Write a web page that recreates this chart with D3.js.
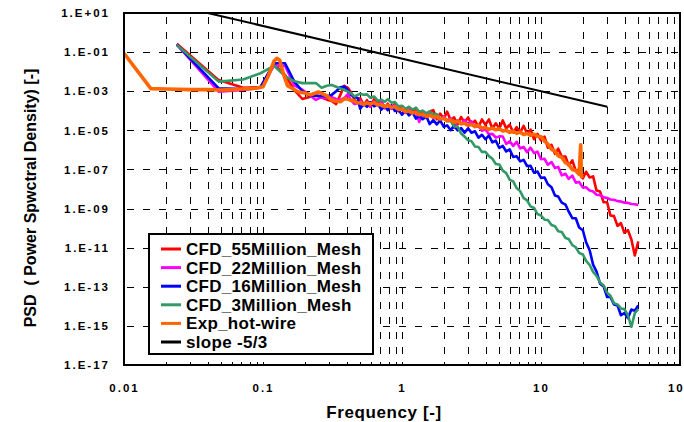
<!DOCTYPE html>
<html>
<head>
<meta charset="utf-8">
<script src="https://cdn.jsdelivr.net/npm/d3@7"></script>
<style>
  html, body { margin: 0; padding: 0; background: #fff; }
  svg { display: block; font-family: "Liberation Sans", Arial, sans-serif; font-weight: bold; }
</style>
</head>
<body>
<svg id="chart" width="684" height="422"></svg>
<script>
// ---- Frequency grids ----
// CFD spectra: evenly spaced low-frequency bins, then a log-spaced sampling above 0.5
const cfdLowFreq = [0.024, 0.048, 0.072, 0.096, 0.12, 0.144, 0.168, 0.192, 0.216, 0.24,
  0.264, 0.288, 0.312, 0.336, 0.36, 0.384, 0.408, 0.432, 0.456, 0.48];
const hiFreq = [0.5, 0.53, 0.56, 0.59, 0.63, 0.67, 0.71, 0.75, 0.79, 0.84, 0.89, 0.94, 1.0,
  1.06, 1.12, 1.19, 1.26, 1.33, 1.41, 1.5, 1.58, 1.68, 1.78, 1.88, 2.0, 2.11, 2.24, 2.37, 2.51,
  2.66, 2.82, 2.99, 3.16, 3.35, 3.55, 3.76, 3.98, 4.22, 4.47, 4.73, 5.01, 5.31, 5.62, 5.96, 6.31,
  6.68, 7.08, 7.5, 7.94, 8.41, 8.91, 9.44, 10.0,
  10.6, 11.2, 11.9, 12.6, 13.3, 14.1, 15.0, 15.8, 16.8, 17.8, 18.8, 20.0, 21.1, 22.4, 23.7,
  25.1, 26.6, 28.2, 29.9, 31.6, 33.5, 35.5, 37.6, 39.8, 42.2, 44.7, 47.3, 50.1];
const cfdFreq = cfdLowFreq.concat(hiFreq);

// Hot-wire measurement frequencies
const expLowFreq = [0.01, 0.0156, 0.02, 0.03, 0.04, 0.05, 0.06, 0.07, 0.08, 0.09, 0.1, 0.11, 0.12,
  0.126, 0.132, 0.14, 0.15, 0.165, 0.18, 0.2, 0.22, 0.25, 0.27, 0.29, 0.31, 0.33, 0.36, 0.39,
  0.42, 0.45, 0.48];
const expTailFreq = [19.3, 19.5, 19.9];
const expFreq = expLowFreq.concat(hiFreq.slice(0, 64), expTailFreq);

// ---- PSD values ----
const psd55M = [0.27, 3.7e-3, 1.5e-3, 1.6e-3, 2.5e-2, 6.8e-3, 1.15e-3, 4.0e-4, 5.1e-4, 6.5e-4,
  4.8e-4, 3.7e-4, 3.2e-4, 2.2e-4, 6.5e-4, 1.9e-3, 1.5e-3, 8.1e-4, 3.6e-4, 2.5e-4,
  4.4e-4, 2.0e-4, 3.5e-4, 1.66e-4, 4.0e-4, 2.1e-4, 3.2e-4, 1.35e-4, 2.3e-4, 1.26e-4,
  2.4e-4, 1.1e-4, 1.7e-4, 9.3e-5, 1.55e-4, 8.1e-5, 1.4e-4, 7.8e-5, 1.0e-4, 6.2e-5,
  9.3e-5, 1.07e-4, 3.7e-5, 7.2e-5, 3.9e-5, 9.1e-5, 3.3e-5, 4.6e-5, 2.0e-5, 4.8e-5,
  2.5e-5, 4.6e-5, 2.0e-5, 3.1e-5, 1.5e-5, 3.6e-5, 1.9e-5, 3.6e-5, 1.23e-5, 2.3e-5,
  1.26e-5, 3.2e-5, 1.26e-5, 1.95e-5, 7.8e-6, 1.45e-5, 7.9e-6, 1.7e-5, 6.9e-6, 1.1e-5,
  3.5e-6, 6.5e-6, 3.1e-6, 4.7e-6, 1.3e-6, 1.8e-6, 6.3e-7, 1.15e-6, 4.6e-7, 4.6e-7,
  1.6e-7, 2.9e-7, 8.3e-8, 1.02e-7, 3.5e-8, 7.6e-8, 3.9e-8, 4.4e-8, 8.3e-9, 7.4e-9,
  2.1e-9, 2.1e-9, 4.4e-10, 4.1e-10, 1.3e-10, 1.8e-10, 5.8e-11, 7.9e-11, 2.6e-11, 4.0e-12,
  2.1e-11];

const psd22M = [0.24, 9.5e-4, 1.15e-3, 1.5e-3, 2.0e-2, 2.0e-2, 2.0e-3, 1.2e-3, 6.5e-4, 3.6e-4,
  5.0e-4, 4.5e-4, 5.0e-4, 4.0e-4, 3.6e-4, 4.5e-4, 7.2e-4, 3.2e-4, 2.2e-4, 2.5e-4,
  3.3e-4, 1.9e-4, 2.75e-4, 1.6e-4, 2.95e-4, 1.95e-4, 2.9e-4, 1.4e-4, 2.0e-4, 1.3e-4,
  1.9e-4, 9.3e-5, 1.26e-4, 7.9e-5, 1.3e-4, 7.1e-5, 9.3e-5, 2.7e-5, 7.1e-5, 4.4e-5,
  7.4e-5, 4.2e-5, 5.5e-5, 3.0e-5, 5.1e-5, 3.2e-5, 4.1e-5, 1.35e-5, 3.2e-5, 2.1e-5,
  3.3e-5, 2.0e-5, 2.9e-5, 1.45e-5, 1.74e-5, 9.5e-6, 1.15e-5, 6.3e-6, 6.6e-6, 4.3e-6,
  4.9e-6, 4.8e-6, 2.0e-6, 2.75e-6, 1.6e-6, 2.6e-6, 1.2e-6, 1.4e-6, 7.6e-7, 1.3e-6,
  6.8e-7, 8.1e-7, 3.3e-7, 3.5e-7, 1.74e-7, 2.4e-7, 1.17e-7, 1.35e-7, 5.0e-8, 6.0e-8,
  3.3e-8, 4.8e-8, 2.1e-8, 2.3e-8, 1.2e-8, 1.23e-8, 8.3e-9, 7.4e-9, 5.1e-9, 4.8e-9,
  3.8e-9, 3.5e-9, 2.9e-9, 2.8e-9, 2.4e-9, 2.3e-9, 2.0e-9, 1.95e-9, 1.7e-9, 1.66e-9,
  1.5e-9];

const psd16M = [0.24, 1.4e-3, 1.3e-3, 1.6e-3, 2.7e-2, 2.7e-2, 3.1e-3, 1.0e-3, 6.0e-4, 5.7e-4,
  5.7e-4, 5.5e-4, 6.5e-4, 1.0e-3, 1.6e-3, 1.75e-3, 1.15e-3, 6.5e-4, 5.0e-4, 4.5e-4,
  1.26e-4, 2.2e-4, 1.6e-4, 2.75e-4, 1.7e-4, 2.2e-4, 1.15e-4, 1.74e-4, 1.07e-4, 1.9e-4,
  9.8e-5, 1.12e-4, 6.3e-5, 1.05e-4, 5.8e-5, 8.3e-5, 4.0e-5, 5.4e-5, 3.7e-5, 5.1e-5,
  2.1e-5, 3.3e-5, 2.0e-5, 3.2e-5, 1.5e-5, 1.8e-5, 1.02e-5, 1.74e-5, 1.0e-5, 1.3e-5,
  7.6e-6, 1.26e-5, 7.6e-6, 8.9e-6, 4.2e-6, 5.9e-6, 3.5e-6, 5.4e-6, 2.45e-6, 2.95e-6,
  1.26e-6, 1.6e-6, 8.3e-7, 1.05e-6, 4.3e-7, 4.7e-7, 2.6e-7, 3.1e-7, 1.5e-7, 1.55e-7,
  6.8e-8, 7.8e-8, 3.7e-8, 3.9e-8, 1.74e-8, 1.23e-8, 4.6e-9, 4.1e-9, 2.0e-9, 1.6e-9,
  7.1e-10, 3.2e-10, 3.2e-10, 1.07e-10, 7.8e-11, 1.9e-11, 7.4e-12, 1.35e-12, 6.0e-13, 1.45e-13,
  1.05e-13, 3.0e-14, 3.0e-14, 1.23e-14, 1.12e-14, 3.5e-15, 4.5e-15, 2.5e-15, 6.9e-15, 6.0e-15,
  1.12e-14];

const psd3M = [0.23, 3.1e-3, 4.0e-3, 8.3e-3, 2.0e-2, 6.0e-3, 3.2e-3, 2.6e-3, 2.6e-3, 2.6e-3,
  1.5e-3, 1.9e-3, 2.1e-3, 1.7e-3, 1.4e-3, 1.15e-3, 9.5e-4, 7.6e-4, 5.4e-4, 6.5e-4,
  7.4e-4, 6.6e-4, 6.9e-4, 4.7e-4, 5.4e-4, 3.2e-4, 3.7e-4, 2.9e-4, 3.9e-4, 2.6e-4,
  2.8e-4, 1.7e-4, 1.8e-4, 1.26e-4, 1.6e-4, 1.17e-4, 1.4e-4, 8.9e-5, 1.0e-4, 7.4e-5,
  9.3e-5, 6.5e-5, 6.9e-5, 4.2e-5, 4.3e-5, 2.9e-5, 3.0e-5, 1.6e-5, 1.55e-5, 6.9e-6,
  4.8e-6, 3.1e-6, 2.8e-6, 1.5e-6, 1.4e-6, 7.9e-7, 7.9e-7, 4.8e-7, 3.5e-7, 1.9e-7,
  1.8e-7, 8.7e-8, 6.5e-8, 2.95e-8, 2.45e-8, 1.12e-8, 7.8e-9, 3.4e-9, 2.6e-9, 1.3e-9,
  1.07e-9, 5.2e-10, 4.4e-10, 2.7e-10, 2.6e-10, 1.45e-10, 1.26e-10, 6.9e-11, 6.3e-11, 3.1e-11,
  2.8e-11, 1.35e-11, 1.05e-11, 5.4e-12, 4.5e-12, 2.1e-12, 1.3e-12, 5.8e-13, 3.6e-13, 1.66e-13,
  1.17e-13, 5.0e-14, 3.5e-14, 1.45e-14, 1.26e-14, 7.8e-15, 7.2e-15, 3.5e-15, 8.9e-16, 4.5e-15,
  7.1e-15];

const psdExp = [8.7e-2, 1.35e-3, 1.3e-3, 1.2e-3, 1.2e-3, 1.15e-3, 1.2e-3, 1.3e-3, 1.35e-3, 1.45e-3,
  1.7e-3, 6.8e-3, 3.5e-2, 4.8e-2, 3.8e-2, 8.0e-3, 1.9e-3, 1.3e-3, 9.1e-4, 8.1e-4,
  6.5e-4, 9.1e-4, 7.2e-4, 5.7e-4, 3.6e-4, 3.2e-4, 2.9e-4, 4.3e-4, 3.6e-4, 3.2e-4, 2.5e-4,
  2.6e-4, 2.1e-4, 2.5e-4, 2.2e-4, 2.6e-4, 2.0e-4, 2.1e-4, 1.6e-4, 1.9e-4, 1.5e-4,
  1.6e-4, 1.17e-4, 1.23e-4, 8.9e-5, 9.8e-5, 7.6e-5, 8.3e-5, 6.2e-5, 6.6e-5, 5.1e-5,
  5.9e-5, 4.7e-5, 5.1e-5, 3.8e-5, 4.2e-5, 3.1e-5, 3.4e-5, 2.6e-5, 3.0e-5, 2.2e-5,
  2.3e-5, 1.8e-5, 2.0e-5, 1.6e-5, 1.8e-5, 1.3e-5, 1.4e-5, 1.12e-5, 1.3e-5, 1.07e-5,
  1.2e-5, 9.3e-6, 1.0e-5, 7.9e-6, 8.9e-6, 7.1e-6, 8.1e-6, 6.2e-6, 6.9e-6, 5.5e-6,
  6.3e-6, 5.0e-6, 4.7e-6, 2.8e-6, 2.0e-6, 1.07e-6, 8.7e-7, 5.0e-7, 4.2e-7, 2.2e-7,
  1.8e-7, 1.0e-7, 8.7e-8, 5.6e-8,
  1.8e-6, 4.5e-8, 3.6e-8];

// Reference -5/3 slope
const slopeFreq = [0.04, 30];
const slopePsd = [10, 1.6e-4];

// ---- Axis ticks and legend ----
const xTicks = [0.01, 0.1, 1, 10, 100];
const xTickLabels = ["0.01", "0.1", "1", "10", "100"];
const yTicks = [1e1, 1e-1, 1e-3, 1e-5, 1e-7, 1e-9, 1e-11, 1e-13, 1e-15, 1e-17];
const yTickLabels = ["1.E+01", "1.E-01", "1.E-03", "1.E-05", "1.E-07", "1.E-09",
  "1.E-11", "1.E-13", "1.E-15", "1.E-17"];
const legendLabels = ["CFD_55Million_Mesh", "CFD_22Million_Mesh", "CFD_16Million_Mesh",
  "CFD_3Million_Mesh", "Exp_hot-wire", "slope -5/3"];
const seriesColors = ["#ff0000", "#ff00ff", "#0000ff", "#339966", "#ff6600", "#000000"];

// ---- Layout ----
const plot = { left: 124, right: 680, top: 13, bottom: 365 };
const svg = d3.select("#chart");

const x = d3.scaleLog().domain([0.01, 100]).range([plot.left, plot.right]);
const y = d3.scaleLog().domain([1e-17, 1e1]).range([plot.bottom, plot.top]);

svg.append("defs").append("clipPath").attr("id", "plotClip")
  .append("rect")
  .attr("x", plot.left).attr("y", plot.top)
  .attr("width", plot.right - plot.left).attr("height", plot.bottom - plot.top);

// Grid: dashed verticals at every log sub-decade, dashed horizontals at labelled decades
const grid = svg.append("g").attr("stroke", "#000").attr("stroke-width", 1).attr("fill", "none");
grid.selectAll("line.v")
  .data(x.ticks().filter(v => v > 0.0101 && v < 99))
  .join("line").attr("class", "v")
  .attr("x1", d => Math.round(x(d)) + 0.5).attr("x2", d => Math.round(x(d)) + 0.5)
  .attr("y1", plot.top).attr("y2", plot.bottom)
  .attr("stroke-dasharray", "7,8").attr("stroke-dashoffset", -4);
grid.selectAll("line.h")
  .data(yTicks.filter(v => v < 9 && v > 1.1e-17))
  .join("line").attr("class", "h")
  .attr("x1", plot.left).attr("x2", plot.right)
  .attr("y1", d => Math.round(y(d)) + 0.5).attr("y2", d => Math.round(y(d)) + 0.5)
  .attr("stroke-dasharray", "7,9").attr("stroke-dashoffset", -3);

// ---- Series ----
const zip = (f, p) => f.map((v, i) => [v, p[i]]);
const series = [
  { data: zip(cfdFreq, psd55M), color: seriesColors[0], width: 2.6 },
  { data: zip(cfdFreq, psd22M), color: seriesColors[1], width: 2.6 },
  { data: zip(cfdFreq, psd16M), color: seriesColors[2], width: 2.6 },
  { data: zip(cfdFreq, psd3M), color: seriesColors[3], width: 2.6 },
  { data: zip(expFreq, psdExp), color: seriesColors[4], width: 3.6 },
  { data: zip(slopeFreq, slopePsd), color: seriesColors[5], width: 2 }
];
const line = d3.line().x(d => x(d[0])).y(d => y(d[1]));
svg.append("g").attr("clip-path", "url(#plotClip)")
  .selectAll("path").data(series).join("path")
  .attr("d", d => line(d.data))
  .attr("fill", "none")
  .attr("stroke", d => d.color)
  .attr("stroke-width", d => d.width)
  .attr("stroke-linejoin", "round");

// Plot frame
svg.append("rect")
  .attr("x", plot.left).attr("y", plot.top)
  .attr("width", plot.right - plot.left).attr("height", plot.bottom - plot.top)
  .attr("fill", "none").attr("stroke", "#000").attr("stroke-width", 2);

// ---- Axes ----
const yAxis = svg.append("g").attr("transform", `translate(${plot.left},0)`)
  .call(d3.axisLeft(y).tickValues(yTicks).tickFormat((d, i) => yTickLabels[i])
    .tickSize(0).tickPadding(14));
yAxis.select(".domain").remove();
yAxis.selectAll("text")
  .attr("font-family", "\"Liberation Sans\", Arial, sans-serif")
  .attr("font-weight", "bold").attr("font-size", 11.5)
  .attr("letter-spacing", "2px").attr("fill", "#000");

const xAxis = svg.append("g").attr("transform", `translate(0,${plot.bottom})`)
  .call(d3.axisBottom(x).tickValues(xTicks).tickFormat((d, i) => xTickLabels[i])
    .tickSize(0).tickPadding(19));
xAxis.select(".domain").remove();
xAxis.selectAll("text")
  .attr("font-family", "\"Liberation Sans\", Arial, sans-serif")
  .attr("font-weight", "bold").attr("font-size", 11.5)
  .attr("letter-spacing", "2px").attr("fill", "#000");

// Axis titles
svg.append("text")
  .attr("x", 384).attr("y", 418)
  .attr("text-anchor", "middle")
  .attr("font-size", 17).attr("letter-spacing", "0.6px")
  .text("Frequency [-]");

svg.append("text")
  .attr("transform", "translate(36,198) rotate(-90)")
  .attr("text-anchor", "middle")
  .attr("font-size", 16)
  .style("white-space", "pre")
  .text("PSD  ( Power Spwctral Density) [-]");

// ---- Legend ----
const legend = svg.append("g");
legend.append("rect")
  .attr("x", 149).attr("y", 234).attr("width", 224).attr("height", 120)
  .attr("fill", "#fff").attr("stroke", "#000").attr("stroke-width", 2);
const rowH = 18.6;
const items = legend.selectAll("g.item").data(legendLabels).join("g").attr("class", "item")
  .attr("transform", (d, i) => `translate(0,${255 + i * rowH})`);
items.append("line")
  .attr("x1", 161).attr("x2", 181).attr("y1", -6).attr("y2", -6)
  .attr("stroke", (d, i) => seriesColors[i]).attr("stroke-width", 3);
items.append("text")
  .attr("x", 186).attr("y", 0)
  .attr("font-size", 17).attr("letter-spacing", "0.3px")
  .text(d => d);
</script>
</body>
</html>
